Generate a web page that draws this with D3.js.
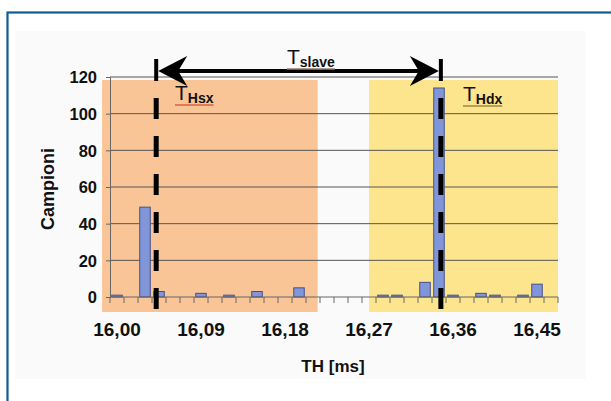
<!DOCTYPE html>
<html><head><meta charset="utf-8">
<script src="https://cdn.jsdelivr.net/npm/d3@7"></script>
<style>body{margin:0;background:#fff}svg{display:block}text{font-family:"Liberation Sans",Arial,sans-serif;font-weight:bold;fill:#111}</style>
</head><body><svg id="c" width="611" height="401"></svg>
<script>
const categories = [16.000,16.015,16.030,16.045,16.060,16.075,16.090,16.105,16.120,16.135,16.150,16.165,16.180,16.195,16.210,16.225,16.240,16.255,16.270,16.285,16.300,16.315,16.330,16.345,16.360,16.375,16.390,16.405,16.420,16.435,16.450,16.465];
const counts     = [1,0,49,3,0,0,2,0,1,0,3,0,0,5,0,0,0,0,0,1,1,0,8,114,1,0,2,1,0,1,7,0];
const xTickLabels = ["16,00","16,09","16,18","16,27","16,36","16,45"];
const xTickValues = [16.000,16.090,16.180,16.270,16.360,16.450];
const yTicks = [0,20,40,60,80,100,120];
const regions = [{from:15.984,to:16.215,color:"#f9c596"},{from:16.270,to:16.4725,color:"#fde58e"}];
const markers = [16.042,16.347];

const svg = d3.select("#c");
// frame
svg.append("rect").attr("x",7.5).attr("y",12.5).attr("width",700).attr("height",500)
  .attr("fill","#fff").attr("stroke","#0e5c97").attr("stroke-width",2.2);
svg.append("rect").attr("x",15).attr("y",31).attr("width",571).attr("height",348).attr("fill","#fafafa");

const x = d3.scaleBand().domain(categories).range([110,558]).paddingInner(0.25).paddingOuter(0.125);
const bw = 448/categories.length;
const xl = d3.scaleLinear().domain([categories[0]-0.0075, categories[categories.length-1]+0.0075]).range([110,558]);
const y = d3.scaleLinear().domain([0,120]).range([297,77]);

// regions
svg.selectAll(".reg").data(regions).join("rect")
  .attr("x",d=>xl(d.from)).attr("width",d=>xl(d.to)-xl(d.from))
  .attr("y",80).attr("height",232).attr("fill",d=>d.color);

// grid
svg.selectAll(".grid").data(yTicks.slice(1)).join("line")
  .attr("x1",110).attr("x2",558).attr("y1",d=>y(d)).attr("y2",d=>y(d))
  .attr("stroke","#555").attr("stroke-width",1);

// y axis
const ya = svg.append("g").attr("transform","translate(110,0)")
  .call(d3.axisLeft(y).tickValues(yTicks).tickSize(4).tickFormat(d3.format("d")));
ya.select(".domain").attr("stroke","#666");
ya.selectAll(".tick line").attr("stroke","#666");
ya.selectAll("text").attr("x",-13).attr("dy","0.36em").style("font-size","16.5px").style("font-family","Liberation Sans, Arial").style("font-weight","bold").attr("fill","#111");

// bars
svg.selectAll(".bar").data(categories).join("rect")
  .attr("x",(d)=>x(d)).attr("width",x.bandwidth())
  .attr("y",(d,i)=>y(counts[i])).attr("height",(d,i)=>y(0)-y(counts[i]))
  .attr("fill","#8096d8").attr("stroke","#44508a").attr("stroke-width",(d,i)=>counts[i]>0?1:0);

// x axis
svg.append("line").attr("x1",110).attr("x2",558).attr("y1",297).attr("y2",297).attr("stroke","#666");
const bounds = categories.map(c=>xl(c)-bw/2).concat([558]);
svg.selectAll(".xt").data(bounds).join("line")
  .attr("x1",d=>d).attr("x2",d=>d).attr("y1",297).attr("y2",303).attr("stroke","#666");
svg.selectAll(".xl").data(xTickValues).join("text")
  .attr("x",(d)=>xl(d)).attr("y",336).attr("text-anchor","middle").style("font-size","19px")
  .text((d,i)=>xTickLabels[i]);

// axis titles
svg.append("text").attr("x",333).attr("y",372).attr("text-anchor","middle").style("font-size","17px").text("TH [ms]");
svg.append("text").attr("transform","translate(54,189) rotate(-90)").attr("text-anchor","middle").style("font-size","18px").text("Campioni");

// dashed markers
svg.selectAll(".dm").data(markers).join("line")
  .attr("x1",d=>xl(d)).attr("x2",d=>xl(d)).attr("y1",98).attr("y2",311)
  .attr("stroke","#000").attr("stroke-width",5).attr("stroke-dasharray","21,17");
svg.selectAll(".cap").data(markers).join("line")
  .attr("x1",d=>xl(d)).attr("x2",d=>xl(d)).attr("y1",59).attr("y2",81)
  .attr("stroke","#000").attr("stroke-width",4);

// arrow
const xa = xl(markers[0]), xb = xl(markers[1]), ay = 71;
svg.append("line").attr("x1",xa+10).attr("x2",xb-10).attr("y1",ay).attr("y2",ay).attr("stroke","#000").attr("stroke-width",4);
svg.append("path").attr("d",`M${xa+2},${ay} L${xa+31},${ay-15} L${xa+22},${ay} L${xa+31},${ay+15} Z`).attr("fill","#000");
svg.append("path").attr("d",`M${xb-2},${ay} L${xb-31},${ay-15} L${xb-22},${ay} L${xb-31},${ay+15} Z`).attr("fill","#000");

// labels
function tlabel(xp, yp, sub, ulColor){
  const t = svg.append("text").attr("x",xp).attr("y",yp);
  t.append("tspan").style("font-size","21px").style("font-weight","normal").text("T");
  t.append("tspan").attr("dy",3).style("font-size","14px").text(sub);
  const w = t.node().getComputedTextLength();
  svg.append("line").attr("x1",xp).attr("x2",xp+w).attr("y1",yp+5).attr("y2",yp+5).attr("stroke",ulColor).attr("stroke-width",1.5);
}
tlabel(287,64,"slave","#9a7a6a");
tlabel(175,100,"Hsx","#d9603a");
tlabel(463,101,"Hdx","#9a8a4a");
</script></body></html>
